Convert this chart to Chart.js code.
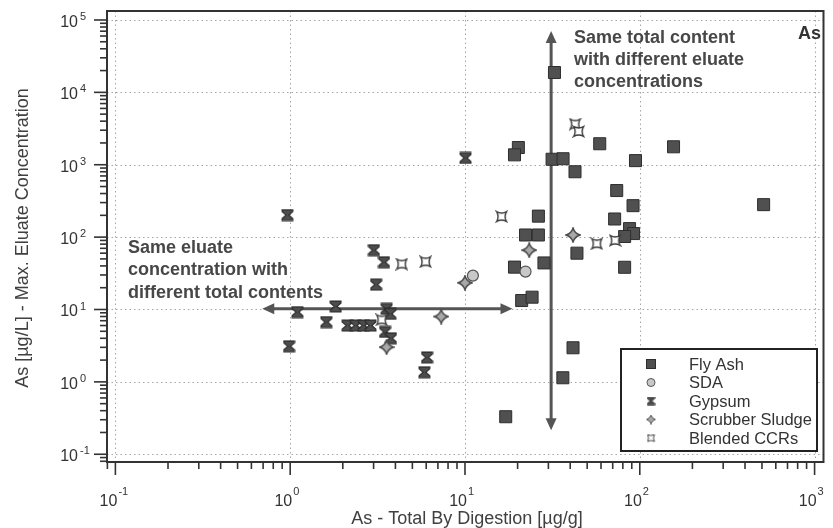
<!DOCTYPE html>
<html>
<head>
<meta charset="utf-8">
<script src="https://cdn.jsdelivr.net/npm/chart.js@4.4.1/dist/chart.umd.min.js"></script>
<style>
    html, body { margin: 0; padding: 0; background: #fff; }
    #grafico { display: block; }
</style>
</head>
<body>
<canvas id="grafico" width="833" height="528"></canvas>
<script>
// Valores: [total por digestion (µg/g), max. concentracion eluato (µg/L)]
const seriesNames = ['Fly Ash', 'SDA', 'Gypsum', 'Scrubber Sludge', 'Blended CCRs'];

const flyAsh = [
    [32.5, 18800], [20.2, 1730], [19.2, 1370], [31.5, 1190], [36.4, 1210], [42.6, 800],
    [59.0, 1950], [94.5, 1140], [156, 1770], [73.8, 440], [91.5, 272], [511, 281],
    [71.8, 178], [87.4, 131], [92.1, 112], [81.9, 102], [26.3, 195], [22.2, 107],
    [26.3, 107], [43.7, 60], [81.9, 38.3], [28.3, 44], [19.2, 38.5], [21.1, 13.3],
    [24.2, 14.8], [41.5, 2.96], [36.3, 1.14], [17.1, 0.33]
];
const sda = [[11.1, 29.4], [22.2, 33.4]];
const gypsum = [
    [0.964, 202], [10.07, 1240], [3.01, 66], [3.44, 45], [3.10, 22.1], [1.10, 9.2],
    [1.82, 11.0], [1.61, 6.7], [2.13, 6.0], [2.37, 6.0], [2.63, 6.0], [2.88, 6.0],
    [3.56, 10.2], [3.74, 8.7], [3.49, 4.9], [3.77, 4.0], [0.986, 3.1], [6.07, 2.18], [5.86, 1.36]
];
const scrubberSludge = [[3.56, 3.02], [7.31, 8.0], [10.0, 23.4], [23.3, 66], [41.5, 107]];
const blendedCCRs = [
    [4.35, 42.4], [5.95, 45.6], [3.34, 7.2], [16.2, 192], [42.7, 3640], [44.7, 2880],
    [56.8, 81], [72.3, 90]
];

const xDecades = [-1, 0, 1, 2, 3];
const yDecades = [-1, 0, 1, 2, 3, 4, 5];
const xTitle = 'As - Total By Digestion [µg/g]';
const yTitle = 'As [µg/L] - Max. Eluate Concentration';
const elementLabel = 'As';
const noteTotal = ['Same total content', 'with different eluate', 'concentrations'];
const noteEluate = ['Same eluate', 'concentration with', 'different total contents'];
// flechas en unidades de datos
const arrowTotal = { x: 31.1, yFrom: 0.214, yTo: 70500 };
const arrowEluate = { y: 10.2, xFrom: 18.7, xTo: 0.692 };

const FONT = '"Liberation Sans", Arial, Helvetica, sans-serif';

const makeIcon = (size, draw) => {
    const c = document.createElement('canvas');
    c.width = size;
    c.height = size;
    const g = c.getContext('2d');
    g.scale(size / 12, size / 12);
    draw(g);
    return c;
};

const drawGypsum = (g) => {
    g.beginPath();
    g.moveTo(1, 1); g.lineTo(11, 1); g.lineTo(11, 2.8); g.lineTo(7.2, 6);
    g.lineTo(11, 9.2); g.lineTo(11, 11); g.lineTo(1, 11); g.lineTo(1, 9.2);
    g.lineTo(4.8, 6); g.lineTo(1, 2.8); g.closePath();
    g.fillStyle = '#4d4d4d';
    g.fill();
    g.lineWidth = 1;
    g.strokeStyle = '#2a2a2a';
    g.stroke();
};

const drawStar = (g) => {
    g.beginPath();
    g.moveTo(6, 0.7);
    g.quadraticCurveTo(7.2, 4.8, 11.3, 6);
    g.quadraticCurveTo(7.2, 7.2, 6, 11.3);
    g.quadraticCurveTo(4.8, 7.2, 0.7, 6);
    g.quadraticCurveTo(4.8, 4.8, 6, 0.7);
    g.closePath();
    g.fillStyle = '#a8a8a8';
    g.fill();
    g.lineWidth = 1.1;
    g.strokeStyle = '#4a4a4a';
    g.stroke();
};

const drawBlended = (g) => {
    g.beginPath();
    g.moveTo(1.5, 1.5);
    g.quadraticCurveTo(6, 4, 10.5, 1.5);
    g.quadraticCurveTo(8, 6, 10.5, 10.5);
    g.quadraticCurveTo(6, 8, 1.5, 10.5);
    g.quadraticCurveTo(4, 6, 1.5, 1.5);
    g.closePath();
    g.fillStyle = '#ffffff';
    g.fill();
    g.lineWidth = 1.3;
    g.strokeStyle = '#3c3c3c';
    g.stroke();
};

const iconGypsum = makeIcon(13, drawGypsum);
const iconStar = makeIcon(16, drawStar);
const iconBlended = makeIcon(13, drawBlended);

const toPoints = (arr) => arr.map(([x, y]) => ({ x: x, y: y }));

const drawArrow = (ctx, x1, y1, x2, y2) => {
    // punta en ambos extremos
    const ang = Math.atan2(y2 - y1, x2 - x1);
    const head = 12, half = 5.5;
    const cos = Math.cos(ang), sin = Math.sin(ang);
    ctx.beginPath();
    ctx.moveTo(x1 + cos * (head - 2), y1 + sin * (head - 2));
    ctx.lineTo(x2 - cos * (head - 2), y2 - sin * (head - 2));
    ctx.stroke();
    const tip = (tx, ty, dir) => {
        const bx = tx - dir * cos * head, by = ty - dir * sin * head;
        ctx.beginPath();
        ctx.moveTo(tx, ty);
        ctx.lineTo(bx - sin * half, by + cos * half);
        ctx.lineTo(bx + sin * half, by - cos * half);
        ctx.closePath();
        ctx.fill();
    };
    tip(x2, y2, 1);
    tip(x1, y1, -1);
};

const marcoPlugin = {
    id: 'marco',
    beforeDatasetsDraw(chart) {
        const ctx = chart.ctx;
        const area = chart.chartArea;
        const xs = chart.scales.x, ys = chart.scales.y;
        ctx.save();

        // rejilla punteada en las decadas
        ctx.strokeStyle = '#a6a6a6';
        ctx.lineWidth = 1;
        ctx.setLineDash([1.5, 3]);
        xDecades.forEach(e => {
            const px = Math.round(xs.getPixelForValue(Math.pow(10, e))) + 0.5;
            ctx.beginPath();
            ctx.moveTo(px, area.top);
            ctx.lineTo(px, area.bottom);
            ctx.stroke();
        });
        yDecades.forEach(e => {
            const py = Math.round(ys.getPixelForValue(Math.pow(10, e))) + 0.5;
            ctx.beginPath();
            ctx.moveTo(area.left, py);
            ctx.lineTo(area.right, py);
            ctx.stroke();
        });
        ctx.setLineDash([]);

        // flechas
        ctx.strokeStyle = '#555555';
        ctx.fillStyle = '#555555';
        ctx.lineWidth = 3;
        const ax = xs.getPixelForValue(arrowTotal.x);
        drawArrow(ctx, ax, ys.getPixelForValue(arrowTotal.yFrom), ax, ys.getPixelForValue(arrowTotal.yTo));
        const ay = ys.getPixelForValue(arrowEluate.y);
        drawArrow(ctx, xs.getPixelForValue(arrowEluate.xFrom), ay, xs.getPixelForValue(arrowEluate.xTo), ay);

        // textos de anotacion
        ctx.font = 'bold 18px ' + FONT;
        ctx.fillStyle = '#474747';
        ctx.textAlign = 'left';
        ctx.textBaseline = 'middle';
        noteTotal.forEach((t, i) => ctx.fillText(t, 574, 38 + i * 22));
        noteEluate.forEach((t, i) => ctx.fillText(t, 128, 248 + i * 22.5));

        ctx.textAlign = 'right';
        ctx.fillStyle = '#333333';
        ctx.fillText(elementLabel, 821, 34);
        ctx.restore();
    },
    afterDraw(chart) {
        const ctx = chart.ctx;
        const area = chart.chartArea;
        const xs = chart.scales.x, ys = chart.scales.y;
        ctx.save();

        // marco
        ctx.strokeStyle = '#333333';
        ctx.lineWidth = 2;
        ctx.strokeRect(area.left, area.top, area.right - area.left, area.bottom - area.top);

        // marcas de ticks (mayores y menores)
        ctx.lineWidth = 1.6;
        ctx.strokeStyle = '#333333';
        for (let e = -2; e <= 5; e++) {
            for (let k = 1; k <= 9; k++) {
                const v = k * Math.pow(10, e);
                const len = k === 1 ? 13 : 7;
                if (v >= xs.min && v <= xs.max) {
                    const px = xs.getPixelForValue(v);
                    ctx.beginPath();
                    ctx.moveTo(px, area.bottom);
                    ctx.lineTo(px, area.bottom + len);
                    ctx.stroke();
                }
                if (v >= ys.min && v <= ys.max) {
                    const py = ys.getPixelForValue(v);
                    ctx.beginPath();
                    ctx.moveTo(area.left, py);
                    ctx.lineTo(area.left - len, py);
                    ctx.stroke();
                }
            }
        }

        // etiquetas 10^n
        ctx.fillStyle = '#333333';
        ctx.textBaseline = 'middle';
        xDecades.forEach(e => {
            const px = xs.getPixelForValue(Math.pow(10, e));
            ctx.font = '16px ' + FONT;
            ctx.textAlign = 'right';
            ctx.fillText('10', px + 2, 502);
            ctx.font = '11px ' + FONT;
            ctx.textAlign = 'left';
            ctx.fillText(String(e), px + 3, 492);
        });
        yDecades.forEach(e => {
            const py = ys.getPixelForValue(Math.pow(10, e));
            ctx.font = '16px ' + FONT;
            ctx.textAlign = 'right';
            ctx.fillText('10', area.left - 29, py + 2.5);
            ctx.font = '11px ' + FONT;
            ctx.textAlign = 'left';
            ctx.fillText(String(e), area.left - 27, py - 3);
        });

        // titulos de ejes
        ctx.font = '18px ' + FONT;
        ctx.fillStyle = '#404040';
        ctx.textAlign = 'center';
        ctx.textBaseline = 'alphabetic';
        ctx.fillText(xTitle, 467, 524);
        ctx.save();
        ctx.translate(28, 238);
        ctx.rotate(-Math.PI / 2);
        ctx.fillText(yTitle, 0, 0);
        ctx.restore();

        // leyenda
        const lx = 621, ly = 349, lw = 196, lh = 102;
        ctx.fillStyle = '#ffffff';
        ctx.fillRect(lx, ly, lw, lh);
        ctx.strokeStyle = '#222222';
        ctx.lineWidth = 2;
        ctx.strokeRect(lx, ly, lw, lh);
        const iconos = [
            (x, y) => { ctx.fillStyle = '#505050'; ctx.fillRect(x - 4.5, y - 4.5, 9, 9); ctx.strokeStyle = '#2e2e2e'; ctx.lineWidth = 1; ctx.strokeRect(x - 4.5, y - 4.5, 9, 9); },
            (x, y) => { ctx.beginPath(); ctx.arc(x, y, 4, 0, Math.PI * 2); ctx.fillStyle = '#c8c8c8'; ctx.fill(); ctx.strokeStyle = '#555555'; ctx.lineWidth = 1; ctx.stroke(); },
            (x, y) => ctx.drawImage(makeIcon(9, drawGypsum), x - 4.5, y - 4.5),
            (x, y) => ctx.drawImage(makeIcon(10, drawStar), x - 5, y - 5),
            (x, y) => ctx.drawImage(makeIcon(9, drawBlended), x - 4.5, y - 4.5)
        ];
        seriesNames.forEach((name, i) => {
            const y = 364 + i * 18.5;
            iconos[i](651, y);
            ctx.font = '16.5px ' + FONT;
            ctx.fillStyle = '#333333';
            ctx.textAlign = 'left';
            ctx.textBaseline = 'middle';
            ctx.fillText(name, 689, y + 1);
        });

        ctx.restore();
    }
};

new Chart(document.getElementById('grafico'), {
    type: 'scatter',
    data: {
        datasets: [
            {
                label: seriesNames[0], data: toPoints(flyAsh), order: 5,
                pointStyle: 'rect', pointRadius: 8.5, backgroundColor: '#505050',
                borderColor: '#2e2e2e', borderWidth: 1
            },
            {
                label: seriesNames[1], data: toPoints(sda), order: 4,
                pointStyle: 'circle', pointRadius: 5.5, backgroundColor: '#c8c8c8',
                borderColor: '#555555', borderWidth: 1.2
            },
            {
                label: seriesNames[2], data: toPoints(gypsum), order: 3,
                pointStyle: iconGypsum, pointRadius: 6
            },
            {
                label: seriesNames[3], data: toPoints(scrubberSludge), order: 2,
                pointStyle: iconStar, pointRadius: 6
            },
            {
                label: seriesNames[4], data: toPoints(blendedCCRs), order: 1,
                pointStyle: iconBlended, pointRadius: 6
            }
        ]
    },
    options: {
        responsive: false,
        animation: false,
        devicePixelRatio: 1,
        events: [],
        layout: { padding: { left: 107, right: 5, top: 11, bottom: 66 } },
        plugins: {
            legend: { display: false },
            tooltip: { enabled: false }
        },
        scales: {
            x: {
                type: 'logarithmic', display: false, bounds: 'data',
                min: Math.pow(10, -1.048), max: Math.pow(10, 3.051)
            },
            y: {
                type: 'logarithmic', display: false, bounds: 'data',
                min: Math.pow(10, -1.107), max: Math.pow(10, 5.124)
            }
        }
    },
    plugins: [marcoPlugin]
});
</script>
</body>
</html>
